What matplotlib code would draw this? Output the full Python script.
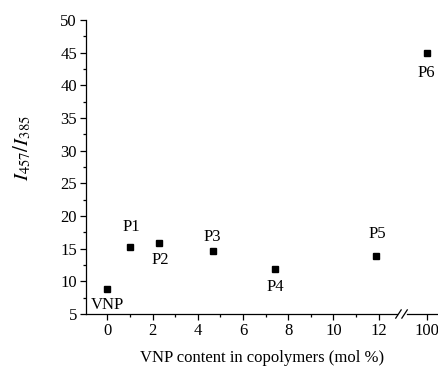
import numpy as np
import matplotlib
matplotlib.use("Agg")
import matplotlib.pyplot as plt
from matplotlib.ticker import MultipleLocator, FixedLocator
import matplotlib.transforms as mtransforms

plt.rcParams["font.family"] = ["Liberation Serif", "DejaVu Serif"]
plt.rcParams["mathtext.fontset"] = "stix"

# data
names = ["VNP", "P1", "P2", "P3", "P4", "P5", "P6"]
vnp_content = [0, 1.0, 2.3, 4.66, 7.43, 11.9, 100]
ratio = [8.9, 15.2, 15.9, 14.6, 11.9, 13.9, 45.0]
x_ticks = [0, 2, 4, 6, 8, 10, 12, 100]

# broken x axis: the 12..100 stretch is squeezed into a short gap
X100 = 14.13


def xmap(x):
    x = np.asarray(x, float)
    return np.where(x <= 12, x, X100 + (x - 100) * 1.0)


# label offsets (points) relative to each marker
offsets = {"VNP": (0, -12), "P1": (1, 14.6), "P2": (0.5, -12.5), "P3": (0, 10),
           "P4": (0, -12.7), "P5": (1, 15.4), "P6": (0, -14.4)}

fig = plt.figure(figsize=(4.39, 3.66), dpi=100)
ax = fig.add_axes([86 / 439, 52 / 366, 352 / 439, 294 / 366])

ax.plot(xmap(vnp_content), ratio, ls="none", marker="s", ms=4.3, color="k")
for n, x, y in zip(names, xmap(vnp_content), ratio):
    ax.annotate(n, (x, y), xytext=offsets[n], textcoords="offset points",
                ha="center", va="center", fontsize=12)

ax.set_xlim(-0.95, 14.63)
ax.set_ylim(5, 50)
ax.yaxis.set_major_locator(MultipleLocator(5))
ax.yaxis.set_minor_locator(MultipleLocator(2.5))
ax.xaxis.set_major_locator(FixedLocator(list(xmap(x_ticks))))
ax.set_xticklabels([str(t) for t in x_ticks])
ax.xaxis.set_minor_locator(FixedLocator([1, 3, 5, 7, 9, 11]))
ax.tick_params(which="major", direction="out", length=4.5, width=0.9, labelsize=12, pad=2)
ax.tick_params(which="minor", direction="out", length=2.5, width=0.9)

for s in ["top", "right", "bottom"]:
    ax.spines[s].set_visible(False)
ax.spines["left"].set_linewidth(0.9)

# bottom axis line with a gap and "//" break marks
tr = mtransforms.blended_transform_factory(ax.transData, ax.transAxes)
ax.plot([-0.95, 12.81], [0, 0], color="k", lw=0.9, transform=tr, clip_on=False)
ax.plot([13.25, 14.63], [0, 0], color="k", lw=0.9, transform=tr, clip_on=False)
for xb in [12.88, 13.15]:
    ax.plot([xb - 0.12, xb + 0.12], [-0.014, 0.014], color="k", lw=0.9,
            transform=tr, clip_on=False)

ax.set_xlabel("VNP content in copolymers (mol %)", fontsize=12, labelpad=8)
fig.text(22 / 439, 1 - 148 / 366, r"$I_{457}/I_{385}$", rotation=90,
         ha="center", va="center", fontsize=15)

fig.savefig("out.png", dpi=100)
